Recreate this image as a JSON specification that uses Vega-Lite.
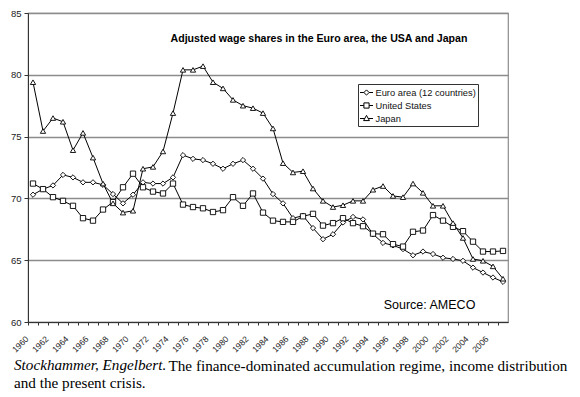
{
  "$schema": "https://vega.github.io/schema/vega-lite/v6.json",
  "width": 480,
  "height": 309,
  "autosize": {"type": "none"},
  "padding": {"left": 28, "top": 13, "right": 72, "bottom": 75},
  "background": "white",
  "config": {
    "font": "Liberation Sans",
    "view": {"stroke": "#8c8c8c", "strokeWidth": 1.2}
  },
  "title": {
    "text": "Stockhammer, Engelbert.",
    "subtitle": "and the present crisis.",
    "orient": "bottom",
    "anchor": "start",
    "frame": "group",
    "offset": -15,
    "dx": -14,
    "font": "Liberation Serif",
    "fontSize": 15.2,
    "fontStyle": "italic",
    "fontWeight": "normal",
    "color": "black",
    "subtitleFont": "Liberation Serif",
    "subtitleFontSize": 15.2,
    "subtitleColor": "black",
    "subtitlePadding": 3
  },
  "datasets": {
    "wages": [
      {"year":1960,"series":"Euro area (12 countries)","value":70.3},{"year":1961,"series":"Euro area (12 countries)","value":70.75},{"year":1962,"series":"Euro area (12 countries)","value":71.05},{"year":1963,"series":"Euro area (12 countries)","value":71.9},{"year":1964,"series":"Euro area (12 countries)","value":71.7},{"year":1965,"series":"Euro area (12 countries)","value":71.3},{"year":1966,"series":"Euro area (12 countries)","value":71.3},{"year":1967,"series":"Euro area (12 countries)","value":71.1},{"year":1968,"series":"Euro area (12 countries)","value":70.35},{"year":1969,"series":"Euro area (12 countries)","value":69.6},{"year":1970,"series":"Euro area (12 countries)","value":70.3},{"year":1971,"series":"Euro area (12 countries)","value":71.3},{"year":1972,"series":"Euro area (12 countries)","value":71.2},{"year":1973,"series":"Euro area (12 countries)","value":71.2},{"year":1974,"series":"Euro area (12 countries)","value":71.7},{"year":1975,"series":"Euro area (12 countries)","value":73.5},{"year":1976,"series":"Euro area (12 countries)","value":73.2},{"year":1977,"series":"Euro area (12 countries)","value":73.1},{"year":1978,"series":"Euro area (12 countries)","value":72.8},{"year":1979,"series":"Euro area (12 countries)","value":72.4},{"year":1980,"series":"Euro area (12 countries)","value":72.8},{"year":1981,"series":"Euro area (12 countries)","value":73.1},{"year":1982,"series":"Euro area (12 countries)","value":72.4},{"year":1983,"series":"Euro area (12 countries)","value":71.6},{"year":1984,"series":"Euro area (12 countries)","value":70.35},{"year":1985,"series":"Euro area (12 countries)","value":69.6},{"year":1986,"series":"Euro area (12 countries)","value":68.4},{"year":1987,"series":"Euro area (12 countries)","value":68.6},{"year":1988,"series":"Euro area (12 countries)","value":67.6},{"year":1989,"series":"Euro area (12 countries)","value":66.7},{"year":1990,"series":"Euro area (12 countries)","value":67.1},{"year":1991,"series":"Euro area (12 countries)","value":68.05},{"year":1992,"series":"Euro area (12 countries)","value":68.5},{"year":1993,"series":"Euro area (12 countries)","value":68.3},{"year":1994,"series":"Euro area (12 countries)","value":67.1},{"year":1995,"series":"Euro area (12 countries)","value":66.4},{"year":1996,"series":"Euro area (12 countries)","value":66.2},{"year":1997,"series":"Euro area (12 countries)","value":65.9},{"year":1998,"series":"Euro area (12 countries)","value":65.4},{"year":1999,"series":"Euro area (12 countries)","value":65.7},{"year":2000,"series":"Euro area (12 countries)","value":65.5},{"year":2001,"series":"Euro area (12 countries)","value":65.2},{"year":2002,"series":"Euro area (12 countries)","value":65.1},{"year":2003,"series":"Euro area (12 countries)","value":64.95},{"year":2004,"series":"Euro area (12 countries)","value":64.4},{"year":2005,"series":"Euro area (12 countries)","value":64.0},{"year":2006,"series":"Euro area (12 countries)","value":63.6},{"year":2007,"series":"Euro area (12 countries)","value":63.25},
      {"year":1960,"series":"United States","value":71.2},{"year":1961,"series":"United States","value":70.75},{"year":1962,"series":"United States","value":70.1},{"year":1963,"series":"United States","value":69.8},{"year":1964,"series":"United States","value":69.4},{"year":1965,"series":"United States","value":68.4},{"year":1966,"series":"United States","value":68.2},{"year":1967,"series":"United States","value":69.1},{"year":1968,"series":"United States","value":69.7},{"year":1969,"series":"United States","value":70.9},{"year":1970,"series":"United States","value":72.0},{"year":1971,"series":"United States","value":70.9},{"year":1972,"series":"United States","value":70.55},{"year":1973,"series":"United States","value":70.4},{"year":1974,"series":"United States","value":71.2},{"year":1975,"series":"United States","value":69.5},{"year":1976,"series":"United States","value":69.3},{"year":1977,"series":"United States","value":69.2},{"year":1978,"series":"United States","value":68.9},{"year":1979,"series":"United States","value":69.05},{"year":1980,"series":"United States","value":70.1},{"year":1981,"series":"United States","value":69.4},{"year":1982,"series":"United States","value":70.4},{"year":1983,"series":"United States","value":68.85},{"year":1984,"series":"United States","value":68.2},{"year":1985,"series":"United States","value":68.1},{"year":1986,"series":"United States","value":68.1},{"year":1987,"series":"United States","value":68.55},{"year":1988,"series":"United States","value":68.75},{"year":1989,"series":"United States","value":67.8},{"year":1990,"series":"United States","value":68.0},{"year":1991,"series":"United States","value":68.4},{"year":1992,"series":"United States","value":68.0},{"year":1993,"series":"United States","value":67.75},{"year":1994,"series":"United States","value":67.15},{"year":1995,"series":"United States","value":67.1},{"year":1996,"series":"United States","value":66.3},{"year":1997,"series":"United States","value":66.1},{"year":1998,"series":"United States","value":67.3},{"year":1999,"series":"United States","value":67.4},{"year":2000,"series":"United States","value":68.65},{"year":2001,"series":"United States","value":68.2},{"year":2002,"series":"United States","value":67.7},{"year":2003,"series":"United States","value":67.35},{"year":2004,"series":"United States","value":66.5},{"year":2005,"series":"United States","value":65.7},{"year":2006,"series":"United States","value":65.7},{"year":2007,"series":"United States","value":65.75},
      {"year":1960,"series":"Japan","value":79.4},{"year":1961,"series":"Japan","value":75.45},{"year":1962,"series":"Japan","value":76.5},{"year":1963,"series":"Japan","value":76.2},{"year":1964,"series":"Japan","value":73.9},{"year":1965,"series":"Japan","value":75.3},{"year":1966,"series":"Japan","value":73.3},{"year":1967,"series":"Japan","value":71.2},{"year":1968,"series":"Japan","value":69.6},{"year":1969,"series":"Japan","value":68.85},{"year":1970,"series":"Japan","value":69.0},{"year":1971,"series":"Japan","value":72.4},{"year":1972,"series":"Japan","value":72.55},{"year":1973,"series":"Japan","value":73.8},{"year":1974,"series":"Japan","value":76.9},{"year":1975,"series":"Japan","value":80.4},{"year":1976,"series":"Japan","value":80.4},{"year":1977,"series":"Japan","value":80.7},{"year":1978,"series":"Japan","value":79.4},{"year":1979,"series":"Japan","value":78.9},{"year":1980,"series":"Japan","value":77.97},{"year":1981,"series":"Japan","value":77.5},{"year":1982,"series":"Japan","value":77.3},{"year":1983,"series":"Japan","value":76.9},{"year":1984,"series":"Japan","value":75.66},{"year":1985,"series":"Japan","value":72.85},{"year":1986,"series":"Japan","value":72.1},{"year":1987,"series":"Japan","value":72.2},{"year":1988,"series":"Japan","value":70.8},{"year":1989,"series":"Japan","value":69.8},{"year":1990,"series":"Japan","value":69.3},{"year":1991,"series":"Japan","value":69.45},{"year":1992,"series":"Japan","value":69.8},{"year":1993,"series":"Japan","value":69.8},{"year":1994,"series":"Japan","value":70.7},{"year":1995,"series":"Japan","value":71.0},{"year":1996,"series":"Japan","value":70.2},{"year":1997,"series":"Japan","value":70.1},{"year":1998,"series":"Japan","value":71.2},{"year":1999,"series":"Japan","value":70.45},{"year":2000,"series":"Japan","value":69.4},{"year":2001,"series":"Japan","value":69.4},{"year":2002,"series":"Japan","value":68.0},{"year":2003,"series":"Japan","value":66.8},{"year":2004,"series":"Japan","value":65.1},{"year":2005,"series":"Japan","value":64.95},{"year":2006,"series":"Japan","value":64.5},{"year":2007,"series":"Japan","value":63.5}
    ]
  },
  "data": {"name": "wages"},
  "encoding": {
    "x": {
      "field": "year",
      "type": "ordinal",
      "scale": {"type": "band", "paddingInner": 0, "paddingOuter": 0},
      "axis": {
        "bandPosition": 0,
        "labelExpr": "datum.value % 2 === 0 ? datum.label : ''",
        "labelAngle": -45,
        "labelAlign": "right",
        "labelBaseline": "middle",
        "labelFontSize": 8.5,
        "labelPadding": 12,
        "labelOffset": -6,
        "labelOverlap": false,
        "labelColor": "#222",
        "tickSize": 3,
        "tickColor": "#333",
        "domainColor": "#333",
        "grid": false,
        "title": "The finance-dominated accumulation regime, income distribution",
        "titleX": 140,
        "titleY": 48,
        "titleAlign": "left",
        "titleAnchor": "start",
        "titleBaseline": "alphabetic",
        "titleFont": "Liberation Serif",
        "titleFontSize": 15.2,
        "titleFontWeight": "normal",
        "titleColor": "black"
      }
    },
    "y": {
      "field": "value",
      "type": "quantitative",
      "scale": {"domain": [60, 85], "nice": false, "zero": false},
      "axis": {
        "values": [60, 65, 70, 75, 80, 85],
        "title": null,
        "grid": true,
        "gridColor": "#8c8c8c",
        "gridWidth": 1.3,
        "tickSize": 4,
        "tickColor": "#333",
        "domainColor": "#333",
        "labelPadding": 3,
        "labelFontSize": 9.5,
        "labelColor": "#222"
      }
    }
  },
  "layer": [
    {
      "mark": {"type": "line", "color": "black", "strokeWidth": 1},
      "encoding": {"detail": {"field": "series"}}
    },
    {
      "mark": {"type": "point", "filled": true, "fill": "white", "stroke": "black", "strokeWidth": 0.9, "size": 28, "opacity": 1},
      "encoding": {
        "shape": {
          "field": "series",
          "scale": {"domain": ["Euro area (12 countries)", "United States", "Japan"], "range": ["diamond", "square", "triangle-up"]},
          "legend": null
        }
      }
    },
    {
      "mark": {"type": "point", "filled": false, "stroke": "black", "strokeWidth": 1, "fillOpacity": 0, "strokeOpacity": 0},
      "encoding": {
        "shape": {
          "field": "series",
          "scale": {
            "domain": ["Euro area (12 countries)", "United States", "Japan"],
            "range": [
              "M-1,0H-0.4M0.4,0H1M0,-0.4L0.4,0L0,0.4L-0.4,0Z",
              "M-1,0H-0.4M0.4,0H1M-0.4,-0.4H0.4V0.4H-0.4Z",
              "M-1,0H-0.27M0.27,0H1M0,-0.48L0.45,0.32L-0.45,0.32Z"
            ]
          },
          "legend": {
            "title": null,
            "orient": "none",
            "legendX": 330,
            "legendY": 71,
            "padding": 1.5,
            "strokeColor": "#333",
            "fillColor": "white",
            "symbolSize": 169,
            "symbolStrokeWidth": 1,
            "symbolStrokeColor": "black",
            "symbolFillColor": "white",
            "labelFont": "Liberation Sans",
            "labelFontSize": 9.3,
            "labelColor": "#111",
            "labelOffset": 2,
            "rowPadding": 0,
            "encode": {
              "symbols": {
                "update": {
                  "stroke": {"value": "black"},
                  "fill": {"value": "white"},
                  "strokeWidth": {"value": 1},
                  "opacity": {"value": 1},
                  "fillOpacity": {"value": 1},
                  "strokeOpacity": {"value": 1}
                }
              }
            }
          }
        }
      }
    },
    {
      "transform": [{"filter": "datum.year == 1989 && datum.series == 'Japan'"}],
      "mark": {"type": "text", "text": "Adjusted wage shares in the Euro area, the USA and Japan", "font": "Liberation Sans", "fontWeight": "bold", "fontSize": 10.6, "color": "black", "dx": -4, "align": "center", "baseline": "middle"},
      "encoding": {
        "y": {"datum": 82.9, "type": "quantitative"}
      }
    },
    {
      "transform": [{"filter": "datum.year == 2000 && datum.series == 'Japan'"}],
      "mark": {"type": "text", "text": "Source: AMECO", "font": "Liberation Sans", "fontSize": 12.5, "color": "black", "dx": -3.5, "align": "center", "baseline": "middle"},
      "encoding": {
        "y": {"datum": 61.38, "type": "quantitative"}
      }
    }
  ],
  "resolve": {"scale": {"shape": "independent"}, "legend": {"shape": "independent"}}
}
